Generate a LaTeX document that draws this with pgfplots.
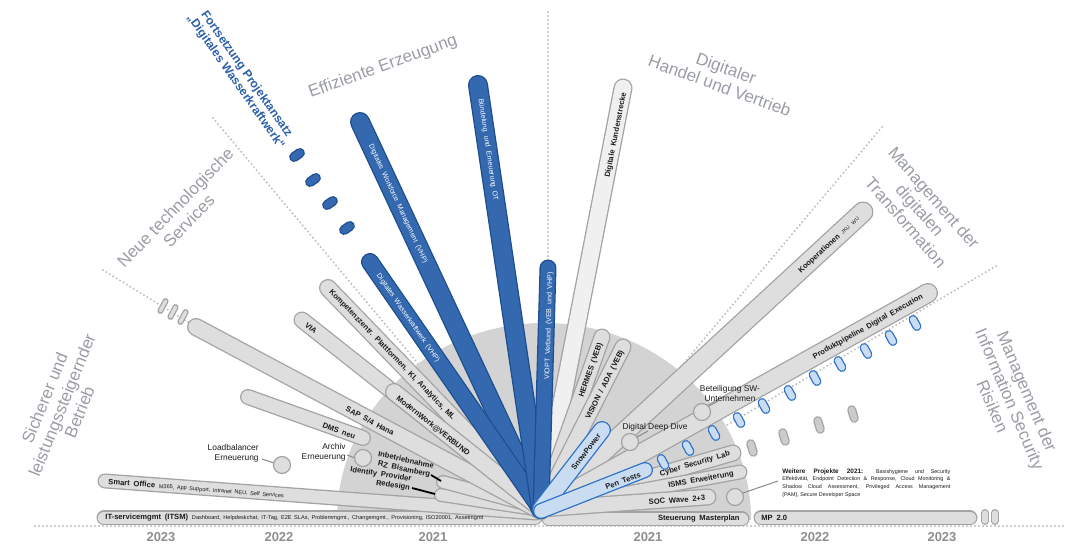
\documentclass[border=0pt]{standalone}
\usepackage{fontspec}
\setmainfont{Liberation Sans}
\usepackage{pgfplots}
\pgfplotsset{compat=1.18}
\definecolor{gfill}{HTML}{DEDEDE}
\definecolor{gbord}{HTML}{A3A3A3}
\definecolor{lfill}{HTML}{F0F0F0}
\definecolor{bfill}{HTML}{3469B0}
\definecolor{bbord}{HTML}{1E4E90}
\definecolor{lbfill}{HTML}{C9DCF2}
\definecolor{lbbord}{HTML}{2F72C8}
\definecolor{semicol}{HTML}{D3D3D3}
\definecolor{dotcol}{HTML}{BDBDBD}
\definecolor{sectcol}{HTML}{9A9DA5}
\definecolor{yearcol}{HTML}{8E8E8E}
\definecolor{fblue}{HTML}{2B5FA8}
\definecolor{txtcol}{HTML}{1A1A1A}
\definecolor{ovalg}{HTML}{CCCCCC}
\definecolor{leadcol}{HTML}{8A8A8A}
\newcommand{\fsz}[2]{\fontsize{#1}{#2}\selectfont}
\newcommand{\pill}[4]{%
  \addplot[mark=none, draw=#4, line width={#2*0.5pt}, line cap=round] coordinates {#1};
  \addplot[mark=none, draw=#3, line width={(#2-2.6)*0.5pt}, line cap=round] coordinates {#1};}
\newcommand{\dotline}[1]{%
  \addplot[mark=none, draw=dotcol, line width=1.1pt, line cap=round, dash pattern=on 0pt off 2pt] coordinates {#1};}
\newcommand{\lead}[1]{\addplot[mark=none, draw=leadcol, line width=0.5pt] coordinates {#1};}
\tikzset{
  sectstyle/.style={text=sectcol, font={\fsz{8.5}{9.4}}, align=center, inner sep=0pt},
  blab/.style={text=txtcol, font={\fsz{3.8}{4.6}\bfseries\spaceskip=0.5em}, inner sep=0pt},
  wlab/.style={text=white, font={\fsz{3.5}{4.2}\spaceskip=0.55em}, inner sep=0pt},
  nlab/.style={text=txtcol, font={\fsz{4.2}{5}}, inner sep=0pt},
  yearstyle/.style={text=yearcol, font={\fsz{6.5}{7}\bfseries}, inner sep=0pt},
}
\begin{document}
\begin{tikzpicture}
\begin{axis}[name=ax, x=0.5pt, y=0.5pt, xmin=0, xmax=1068, ymin=0, ymax=545,
  y dir=reverse, hide axis, clip=false]
% dotted sector boundaries
\dotline{(35,526) (1066,526)}
\dotline{(103,270) (196,327)}
\dotline{(213,118) (430,378)}
\dotline{(548,12) (548,262)}
\dotline{(882,127) (668,382)}
\dotline{(996,266) (690,447)}
% background half disc
\fill[semicol] (337,520) arc[start angle=180, end angle=0, x radius=103.5pt, y radius=98.5pt] -- cycle;
% bottom horizontal bars
\pill{(104,518) (535,518)}{15}{gfill}{gbord}
\pill{(549,519) (742,519)}{15}{gfill}{gbord}
\pill{(761,518) (970,518)}{15}{gfill}{gbord}
\pill{(985,513) (985,521)}{8}{gfill}{gbord}
\pill{(995,513) (995,521)}{8}{gfill}{gbord}
% left gray bars
\pill{(105,481) (536,513)}{15}{gfill}{gbord}
\pill{(441,495) (540,510)}{14}{gfill}{gbord}
\pill{(443,482) (540,508)}{14}{gfill}{gbord}
\pill{(196,327) (541,511)}{18}{gfill}{gbord}
\pill{(248,397) (363,438)}{16}{gfill}{gbord}
\pill{(302,320) (541,509)}{17}{gfill}{gbord}
\pill{(328,288) (541,509)}{18}{gfill}{gbord}
\pill{(394,392) (541,509)}{18}{gfill}{gbord}
% SAP continuation stubs
\pill{(165.6,301.1) (160.4,310.9)}{6}{gfill}{gbord}
\pill{(175.6,307.1) (170.4,316.9)}{6}{gfill}{gbord}
\pill{(185.6,312.1) (180.4,321.9)}{6}{gfill}{gbord}
% right gray bars
\pill{(623,88) (541,509)}{19}{lfill}{gbord}
\pill{(602,337) (541,509)}{17}{gfill}{gbord}
\pill{(623,347) (541,509)}{17}{gfill}{gbord}
\pill{(863,212) (541,509)}{21}{gfill}{gbord}
\pill{(928,293) (541,509)}{20}{gfill}{gbord}
\pill{(733,453) (541,509)}{17}{gfill}{gbord}
\pill{(740,472) (541,509)}{15}{gfill}{gbord}
\pill{(708,497) (541,509)}{17}{gfill}{gbord}
% blue bars
\pill{(360,122) (541,509)}{20}{bfill}{bbord}
\pill{(370,262) (541,509)}{18}{bfill}{bbord}
\pill{(478,85) (541,509)}{20}{bfill}{bbord}
\pill{(548,268) (541,509)}{17}{bfill}{bbord}
% light blue bars
\pill{(602,430) (541,509)}{18}{lbfill}{lbbord}
\pill{(645,470) (541,511)}{16}{lbfill}{lbbord}
% blue dashes (continuation of Digitales Wasserkraftwerk)
\pill{(294.1,157) (299.9,153)}{10}{bfill}{bbord}
\pill{(310.1,182) (315.9,178)}{10}{bfill}{bbord}
\pill{(327.1,205) (332.9,201)}{10}{bfill}{bbord}
\pill{(344.1,230) (349.9,226)}{10}{bfill}{bbord}
% light blue ovals
\pill{(661.1,458.5) (664.9,465.5)}{9}{lbfill}{lbbord}
\pill{(686.1,444.5) (689.9,451.5)}{9}{lbfill}{lbbord}
\pill{(712.1,429.5) (715.9,436.5)}{9}{lbfill}{lbbord}
\pill{(737.1,416.5) (740.9,423.5)}{9}{lbfill}{lbbord}
\pill{(762.1,402.5) (765.9,409.5)}{9}{lbfill}{lbbord}
\pill{(788.1,389.5) (791.9,396.5)}{9}{lbfill}{lbbord}
\pill{(813.1,374.5) (816.9,381.5)}{9}{lbfill}{lbbord}
\pill{(838.1,360.5) (841.9,367.5)}{9}{lbfill}{lbbord}
\pill{(864.1,347.5) (867.9,354.5)}{9}{lbfill}{lbbord}
\pill{(889.1,334.5) (892.9,341.5)}{9}{lbfill}{lbbord}
\pill{(913.1,319.5) (916.9,326.5)}{9}{lbfill}{lbbord}
% gray ovals
\pill{(750.7,443.7) (753.3,452.3)}{9}{ovalg}{gbord}
\pill{(782.7,432.7) (785.3,441.3)}{9}{ovalg}{gbord}
\pill{(817.7,420.7) (820.3,429.3)}{9}{ovalg}{gbord}
\pill{(851.7,409.7) (854.3,418.3)}{9}{ovalg}{gbord}
% leader lines
\lead{(262,459) (274,463)}
\lead{(347,455) (355,458)}
\lead{(637,437) (648,431)}
\lead{(709,406) (718,401)}
\lead{(743,493) (778,481)}
\addplot[mark=none, draw=black, line width=0.9pt] coordinates {(431,475) (441,481)};
\addplot[mark=none, draw=black, line width=0.9pt] coordinates {(412,488) (435,494)};
% circles
\addplot[only marks, mark=*, mark size=4.25pt, mark options={fill=gfill, draw=gbord, line width=0.6pt}]
  coordinates {(282,465) (363,458) (630,442) (702,412) (735,497)};
% sector labels
\node[sectstyle, rotate=68] at (62,405) {Sicherer und\\leistungssteigernder\\Betrieb};
\node[sectstyle, rotate=46] at (182,214) {Neue technologische\\Services};
\node[sectstyle, rotate=20] at (383,67) {Effiziente Erzeugung};
\node[sectstyle, rotate=-20] at (723,77) {Digitaler\\Handel und Vertrieb};
\node[sectstyle, rotate=-49] at (920,210) {Management der\\digitalen\\Transformation};
\node[sectstyle, rotate=-67] at (1010,399) {Management der\\Information Security\\Risiken};
\node[text=fblue, font={\fsz{6}{6.6}\bfseries}, align=center, rotate=-55, inner sep=0pt] at (241,78) {Fortsetzung Projektansatz\\„Digitales Wasserkraftwerk“};
% years
\node[yearstyle] at (161,537) {2023};
\node[yearstyle] at (279,537) {2022};
\node[yearstyle] at (433,537) {2021};
\node[yearstyle] at (648,537) {2021};
\node[yearstyle] at (815,537) {2022};
\node[yearstyle] at (942,537) {2023};
% bar labels
\node[blab, anchor=west] at (105,518) {IT-servicemgmt (ITSM) {\mdseries\fsz{2.8}{3.4}\spaceskip=0.45em Dashboard, Helpdeskchat, IT-Tag, E2E SLAs, Problemmgmt., Changemgmt., Provisioning, ISO20001, Assetmgmt}};
\node[blab, anchor=west, rotate=-4.4] at (108,482) {Smart Office {\mdseries\fsz{2.8}{3.4}\spaceskip=0.45em M365, App Support, Intranet NEU, Self Services}};
\node[blab, rotate=-20] at (339,431) {DMS neu};
\node[blab, rotate=-28] at (370,421) {SAP S/4 Hana};
\node[blab, rotate=-38.3] at (311,328) {VIA};
\node[blab, rotate=-38.5] at (433,426) {ModernWork@VERBUND};
\node[blab, rotate=-46] at (392,355) {Kompetenzzentr. Plattformen, KI, Analytics, ML};
\node[blab, rotate=-12, align=center] at (405,465) {Inbetriebnahme\\RZ Bisamberg};
\node[blab, rotate=-9, align=right, anchor=east] at (411,484) {Identity Provider\\Redesign};
\node[nlab, align=right, anchor=east] at (259,453) {Loadbalancer\\Erneuerung};
\node[nlab, align=right, anchor=east] at (346,452) {Archiv\\Erneuerung};
\node[wlab, rotate=-55.3] at (408,318) {Digitales Wasserkraftwerk (VHP)};
\node[wlab, rotate=-65] at (398,204) {Digitales Workforce Management (VHP)};
\node[wlab, rotate=-81.5] at (488,150) {Bündelung und Erneuerung OT};
\node[wlab, rotate=88.3] at (549,326) {VIOPT Verbund (VEB und VHP)};
\node[blab, rotate=79] at (616,135) {Digitale Kundenstrecke};
\node[blab, rotate=70.5] at (591,370) {HERMES (VEB)};
\node[blab, rotate=63.2] at (605,385) {VISION / ADA (VEB)};
\node[blab, rotate=42.7] at (829,245) {Kooperationen {\mdseries\fsz{2.6}{3}JKU WU}};
\node[blab, rotate=29.2] at (868,327) {Produktpipeline Digital Execution};
\node[blab, rotate=52.3] at (586,452) {SnowPower};
\node[blab, rotate=20.6] at (623,481) {Pen Tests};
\node[blab, rotate=16.3] at (695,464) {Cyber Security Lab};
\node[blab, rotate=10.5] at (701,480) {ISMS Erweiterung};
\node[blab, rotate=4.1] at (677,500) {SOC Wave 2+3};
\node[blab, anchor=east] at (740,519) {Steuerung Masterplan};
\node[blab, anchor=west] at (761,518) {MP 2.0};
\node[nlab] at (655,427) {Digital Deep Dive};
\node[nlab, align=center] at (730,393) {Beteiligung SW-\\Unternehmen};
\node[anchor=north west, inner sep=0pt, text width=84pt, align=justify, text=txtcol, font={\fsz{2.7}{3.85}}] at (782,468)
  {{\fsz{3.2}{3.85}\bfseries Weitere Projekte 2021:} Basishygiene und Security\linebreak Effektivität, Endpoint Detection \& Response, Cloud Monitoring \&\linebreak Shadow Cloud Assessment, Privileged Access Management\linebreak (PAM), Secure Developer Space};
\end{axis}
\pgfresetboundingbox
\useasboundingbox (ax.south west) rectangle (ax.north east);
\end{tikzpicture}
\end{document}
